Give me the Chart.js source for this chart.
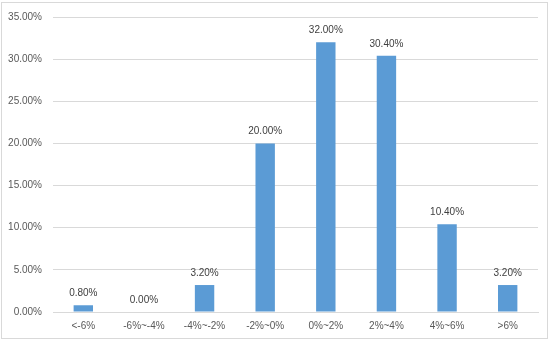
<!DOCTYPE html>
<html><head><meta charset="utf-8">
<script src="https://cdn.jsdelivr.net/npm/chart.js@4/dist/chart.umd.min.js"></script>
<style>html,body{margin:0;padding:0;background:#fff;}canvas{display:block;}</style>
</head><body>
<canvas id="c" width="554" height="343"></canvas>
<script>
const categories = ['<-6%', '-6%~-4%', '-4%~-2%', '-2%~0%', '0%~2%', '2%~4%', '4%~6%', '>6%'];
const values = [0.80, 0.00, 3.20, 20.00, 32.00, 30.40, 10.40, 3.20];
const yTicks = [0, 5, 10, 15, 20, 25, 30, 35];

const FONT = '"Liberation Sans", Arial, sans-serif';

const framePlugin = {
  id: 'frame',
  beforeDraw(chart) {
    const ctx = chart.ctx;
    ctx.save();
    ctx.fillStyle = '#fff';
    ctx.fillRect(0, 0, chart.width, chart.height);
    ctx.strokeStyle = '#d9d9d9';
    ctx.lineWidth = 1;
    ctx.strokeRect(1.5, 2.5, 546, 336);
    ctx.restore();
  }
};

const labelPlugin = {
  id: 'barLabels',
  afterDatasetsDraw(chart) {
    const ctx = chart.ctx;
    const meta = chart.getDatasetMeta(0);
    ctx.save();
    ctx.font = '10px ' + FONT;
    ctx.fillStyle = '#404040';
    ctx.textAlign = 'center';
    ctx.textBaseline = 'bottom';
    meta.data.forEach((bar, i) => {
      ctx.fillText(values[i].toFixed(2) + '%', bar.x, bar.y - 7);
    });
    ctx.restore();
  }
};

new Chart(document.getElementById('c'), {
  type: 'bar',
  data: {
    labels: categories,
    datasets: [{
      data: values,
      backgroundColor: '#5B9BD5',
      borderWidth: 0,
      barPercentage: 0.32,
      categoryPercentage: 1.0
    }]
  },
  options: {
    responsive: false,
    animation: false,
    layout: { padding: { top: 15, right: 16, left: 0, bottom: 0 } },
    plugins: { legend: { display: false }, tooltip: { enabled: false } },
    scales: {
      x: {
        grid: { display: false, drawTicks: false },
        border: { display: true, color: '#d9d9d9' },
        ticks: { color: '#595959', font: { family: FONT, size: 10 }, padding: 8, maxRotation: 0, autoSkip: false },
        afterFit(s) { s.height = 31; }
      },
      y: {
        min: 0, max: 35,
        afterBuildTicks(s) { s.ticks = yTicks.map(v => ({ value: v })); },
        grid: { color: '#d9d9d9', drawTicks: false },
        border: { display: false },
        ticks: { color: '#595959', font: { family: FONT, size: 10 }, padding: 11,
          callback: v => Number(v).toFixed(2) + '%' },
        afterFit(s) { s.width = 53; }
      }
    }
  },
  plugins: [framePlugin, labelPlugin]
});
</script>
</body></html>
